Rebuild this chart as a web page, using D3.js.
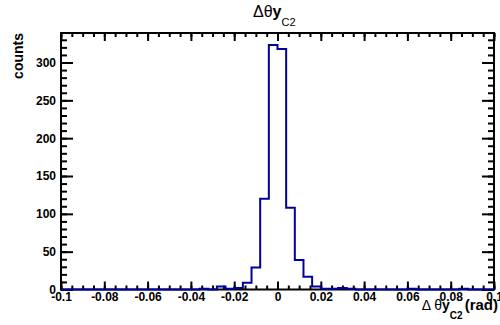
<!DOCTYPE html>
<html>
<head>
<meta charset="utf-8">
<script src="https://cdn.jsdelivr.net/npm/d3@7"></script>
<style>
  body { margin: 0; background: #fff; }
  svg { display: block; font-family: "Liberation Sans", Arial, sans-serif; }
</style>
</head>
<body>
<div id="chart"></div>
<script>

// histogram: 50 bins of 0.004 rad between -0.1 and 0.1
var binLow = -0.1;
var binWidth = 0.004;
var counts = [
  0, 0, 0, 0, 0, 0, 0, 0, 0, 0,
  0, 0, 0, 0, 0, 0, 1, 0, 4, 1,
  2, 9, 29, 120, 323, 318, 108, 39, 17, 4,
  1, 1, 2, 1, 0, 0, 0, 0, 0, 0,
  1, 0, 0, 0, 0, 0, 1, 0, 0, 0
];

var xDomain = [-0.1, 0.1];
var yDomain = [0, 339];
var xMajor = [-0.1, -0.08, -0.06, -0.04, -0.02, 0, 0.02, 0.04, 0.06, 0.08, 0.1];
var xTickLabels = ['-0.1', '-0.08', '-0.06', '-0.04', '-0.02', '0', '0.02', '0.04', '0.06', '0.08', '0.1'];
var yMajor = [0, 50, 100, 150, 200, 250, 300];
var yTickLabels = ['0', '50', '100', '150', '200', '250', '300'];

var width = 500;
var height = 325;
var margin = {top: 33, right: 6, bottom: 35.5, left: 61};
var lineColor = '#00009c';

var svg = d3.select('#chart').append('svg')
    .attr('width', width)
    .attr('height', height);

var x = d3.scaleLinear()
    .domain(xDomain)
    .range([margin.left, width - margin.right]);

var y = d3.scaleLinear()
    .domain(yDomain)
    .range([height - margin.bottom, margin.top]);

// minor ticks
var xMinor = d3.range(0, 41).map(function(i){ return -0.1 + i * 0.005; });
var yMinor = d3.range(0, 34).map(function(i){ return i * 10; });

function styleAxis(g) {
    g.select('.domain').remove();
    g.selectAll('line').attr('stroke', '#000').attr('stroke-width', 2);
    g.selectAll('text')
        .attr('fill', '#000')
        .attr('font-size', 12)
        .attr('font-weight', 'bold')
        .attr('font-family', '"Liberation Sans", Arial, sans-serif');
}

var bottomY = height - margin.bottom;
var rightX = width - margin.right;

// bottom
svg.append('g')
    .attr('transform', 'translate(0,' + bottomY + ')')
    .call(d3.axisBottom(x).tickValues(xMinor).tickSize(-4).tickFormat(''))
    .call(styleAxis);
svg.append('g')
    .attr('transform', 'translate(0,' + bottomY + ')')
    .call(d3.axisBottom(x).tickValues(xMajor).tickSize(-8).tickPadding(3)
        .tickFormat(function(d, i){ return xTickLabels[i]; }))
    .call(styleAxis);

// top
svg.append('g')
    .attr('transform', 'translate(0,' + margin.top + ')')
    .call(d3.axisTop(x).tickValues(xMinor).tickSize(-4).tickFormat(''))
    .call(styleAxis);
svg.append('g')
    .attr('transform', 'translate(0,' + margin.top + ')')
    .call(d3.axisTop(x).tickValues(xMajor).tickSize(-8).tickFormat(''))
    .call(styleAxis);

// left
svg.append('g')
    .attr('transform', 'translate(' + margin.left + ',0)')
    .call(d3.axisLeft(y).tickValues(yMinor).tickSize(-6).tickFormat(''))
    .call(styleAxis);
svg.append('g')
    .attr('transform', 'translate(' + margin.left + ',0)')
    .call(d3.axisLeft(y).tickValues(yMajor).tickSize(-12).tickPadding(5)
        .tickFormat(function(d, i){ return yTickLabels[i]; }))
    .call(styleAxis);

// right
svg.append('g')
    .attr('transform', 'translate(' + rightX + ',0)')
    .call(d3.axisRight(y).tickValues(yMinor).tickSize(-6).tickFormat(''))
    .call(styleAxis);
svg.append('g')
    .attr('transform', 'translate(' + rightX + ',0)')
    .call(d3.axisRight(y).tickValues(yMajor).tickSize(-12).tickFormat(''))
    .call(styleAxis);

// frame
svg.append('rect')
    .attr('x', margin.left)
    .attr('y', margin.top)
    .attr('width', rightX - margin.left)
    .attr('height', bottomY - margin.top)
    .attr('fill', 'none')
    .attr('stroke', '#000')
    .attr('stroke-width', 2);

// histogram outline
var pts = [[binLow, 0]];
counts.forEach(function(c, i){
    pts.push([binLow + i * binWidth, c]);
    pts.push([binLow + (i + 1) * binWidth, c]);
});
pts.push([binLow + counts.length * binWidth, 0]);

var line = d3.line()
    .x(function(d){ return x(d[0]); })
    .y(function(d){ return y(d[1]); });

svg.append('path')
    .attr('d', line(pts))
    .attr('fill', 'none')
    .attr('stroke', lineColor)
    .attr('stroke-width', 2)
    .attr('stroke-linejoin', 'miter');

// title
var title = svg.append('text')
    .attr('x', 253)
    .attr('y', 17)
    .attr('fill', '#000');
title.append('tspan').attr('font-size', 16).text('Δθ');
title.append('tspan').attr('font-size', 16).attr('font-weight', 'bold').text('y');
title.append('tspan').attr('font-size', 11).attr('dy', 9).text('C2');

// x axis title
var xt = svg.append('text')
    .attr('x', 498)
    .attr('y', 310)
    .attr('text-anchor', 'end')
    .attr('fill', '#000');
xt.append('tspan').attr('font-size', 14).text('Δ θ');
xt.append('tspan').attr('font-size', 14).attr('font-weight', 'bold').text('y');
xt.append('tspan').attr('font-size', 10).attr('font-weight', 'bold').attr('dy', 9).text('C2');
xt.append('tspan').attr('font-size', 15).attr('font-weight', 'bold').attr('dy', -9).attr('dx', 2).text('(rad)');

// y axis title
svg.append('text')
    .attr('transform', 'translate(23,' + margin.top + ') rotate(-90)')
    .attr('text-anchor', 'end')
    .attr('font-size', 14)
    .attr('font-weight', 'bold')
    .attr('fill', '#000')
    .text('counts');

</script>
</body>
</html>
